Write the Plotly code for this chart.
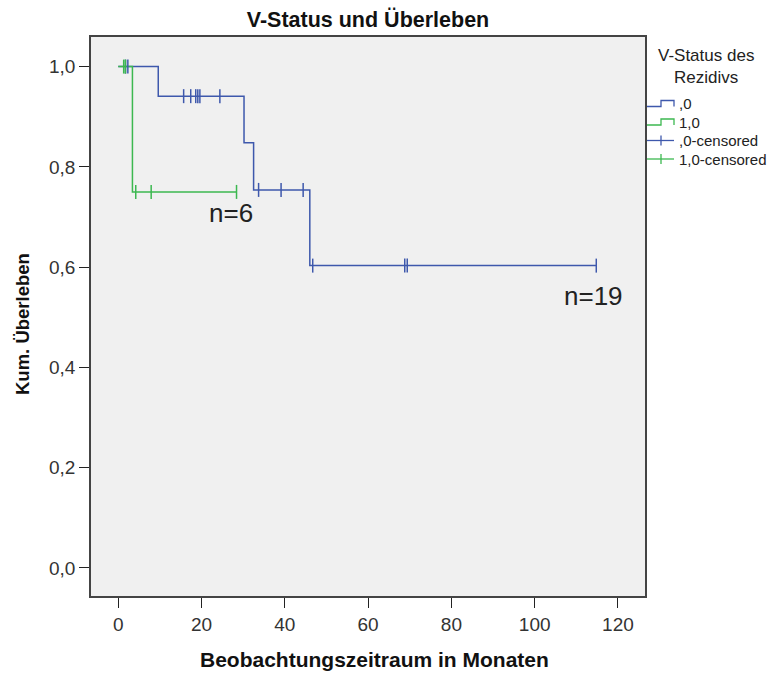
import plotly.graph_objects as go

# ---- data ----
blue_step_t = [0, 9.6, 30.2, 32.5, 46.0, 114.8]
blue_step_s = [1.0, 0.941, 0.848, 0.754, 0.603, 0.603]
blue_cens_t = [1.75, 2.3, 15.7, 17.4, 18.6, 19.1, 19.6, 24.4, 33.7, 39.1, 44.4, 46.7, 68.8, 69.4, 114.8]
blue_cens_s = [1.0, 1.0, 0.941, 0.941, 0.941, 0.941, 0.941, 0.941, 0.754, 0.754, 0.754, 0.603, 0.603, 0.603, 0.603]

green_step_t = [0, 3.4, 28.4]
green_step_s = [1.0, 0.75, 0.75]
green_cens_t = [1.3, 1.7, 4.2, 7.9, 28.4]
green_cens_s = [1.0, 1.0, 0.75, 0.75, 0.75]

legend_labels = [",0", "1,0", ",0-censored", "1,0-censored"]
x_ticks = [0, 20, 40, 60, 80, 100, 120]
y_ticks = [0.0, 0.2, 0.4, 0.6, 0.8, 1.0]

BLUE = "#3e58ac"
GREEN = "#3cb850"
FONT = "Liberation Sans"

W, H = 769, 673
ML, MR, MT, MB = 91, 124, 37, 77
PW, PH = W - ML - MR, H - MT - MB


def px(x):
    return (x - ML) / PW


def py(y):
    return (H - MB - y) / PH


fig = go.Figure()
fig.add_trace(go.Scatter(x=blue_step_t, y=blue_step_s, mode="lines", line=dict(color=BLUE, width=1.5, shape="hv"),
                         showlegend=False, hoverinfo="skip"))
fig.add_trace(go.Scatter(x=green_step_t, y=green_step_s, mode="lines", line=dict(color=GREEN, width=1.5, shape="hv"),
                         showlegend=False, hoverinfo="skip"))
fig.add_trace(go.Scatter(x=blue_cens_t, y=blue_cens_s, mode="markers",
                         marker=dict(symbol="line-ns", size=10, line=dict(color=BLUE, width=1.5)),
                         showlegend=False, hoverinfo="skip"))
fig.add_trace(go.Scatter(x=green_cens_t, y=green_cens_s, mode="markers",
                         marker=dict(symbol="line-ns", size=10, line=dict(color=GREEN, width=1.5)),
                         showlegend=False, hoverinfo="skip"))

# ---- manual legend ----
shapes = []
annotations = []
colors = [BLUE, GREEN, BLUE, GREEN]
row_y = [103.5, 122, 140.5, 159]
gx0, gx1, gmid = 647, 674, 661
for i, (lab, c, yy) in enumerate(zip(legend_labels, colors, row_y)):
    if i < 2:
        lo, hi = yy + 3, yy - 3
        path = (f"M {px(gx0)} {py(lo)} L {px(gmid)} {py(lo)} L {px(gmid)} {py(hi)} "
                f"L {px(gx1)} {py(hi)} L {px(gx1)} {py(lo)}")
        shapes.append(dict(type="path", xref="paper", yref="paper", path=path,
                           line=dict(color=c, width=1.3)))
    else:
        shapes.append(dict(type="line", xref="paper", yref="paper", x0=px(gx0), x1=px(gx1),
                           y0=py(yy), y1=py(yy), line=dict(color=c, width=1.3)))
        shapes.append(dict(type="line", xref="paper", yref="paper", x0=px(gmid), x1=px(gmid),
                           y0=py(yy - 5), y1=py(yy + 5), line=dict(color=c, width=1.3)))
    annotations.append(dict(x=px(677), y=py(yy), xref="paper", yref="paper", text=lab, showarrow=False,
                            xanchor="left", yanchor="middle", font=dict(family=FONT, size=15, color="#222")))

annotations.append(dict(x=px(706), y=py(66), xref="paper", yref="paper", text="V-Status des<br>Rezidivs",
                        showarrow=False, xanchor="center", yanchor="middle", align="center",
                        font=dict(family=FONT, size=17, color="#222")))

annotations.append(dict(x=27.0, y=0.707, xref="x", yref="y", text="n=6", showarrow=False,
                        font=dict(family=FONT, size=26, color="#222")))
annotations.append(dict(x=114.1, y=0.542, xref="x", yref="y", text="n=19", showarrow=False,
                        font=dict(family=FONT, size=26, color="#222")))

# axis titles
annotations.append(dict(x=px(374), y=py(659), xref="paper", yref="paper",
                        text="<b>Beobachtungszeitraum in Monaten</b>", showarrow=False,
                        xanchor="center", yanchor="middle", font=dict(family=FONT, size=21, color="#111")))
annotations.append(dict(x=px(23), y=py(324), xref="paper", yref="paper",
                        text="<b>Kum. Überleben</b>", showarrow=False, textangle=-90,
                        xanchor="center", yanchor="middle", font=dict(family=FONT, size=18.5, color="#111")))

fig.update_layout(
    width=W, height=H,
    margin=dict(l=ML, r=MR, t=MT, b=MB),
    paper_bgcolor="white", plot_bgcolor="#f0f0f0",
    separators=",.",
    showlegend=False,
    title=dict(text="<b>V-Status und Überleben</b>", x=(ML + PW / 2) / W, xanchor="center",
               y=1 - 19 / H, yanchor="middle", font=dict(family=FONT, size=21.5, color="#111")),
    shapes=shapes,
    annotations=annotations,
)
fig.update_xaxes(range=[-6.55, 126.5], tickvals=x_ticks, ticks="outside", ticklen=10, tickwidth=1,
                 tickcolor="#222", showline=True, linecolor="#444", linewidth=1.5, mirror=True,
                 showgrid=False, zeroline=False,
                 tickfont=dict(family=FONT, size=19, color="#333"))
fig.update_yaxes(range=[-0.056, 1.059], tickvals=y_ticks, tickformat=".1f", ticks="outside", ticklen=10,
                 tickwidth=1, tickcolor="#222", showline=True, linecolor="#444", linewidth=1.5, mirror=True,
                 showgrid=False, zeroline=False,
                 tickfont=dict(family=FONT, size=19, color="#333"))

fig.write_html("out.html")
